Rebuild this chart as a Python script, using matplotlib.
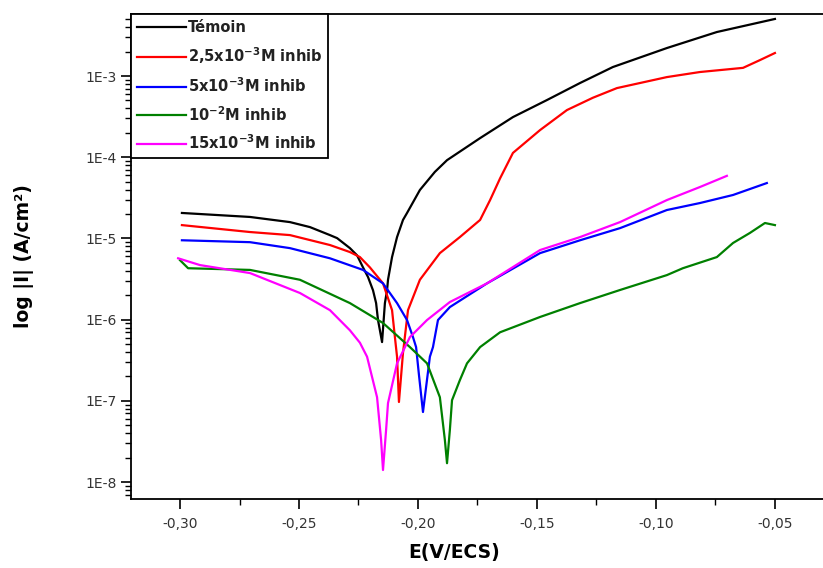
import numpy as np
import matplotlib
matplotlib.use('Agg')
import matplotlib.pyplot as plt
from matplotlib.ticker import FixedLocator, FuncFormatter, MultipleLocator

plt.rcParams['font.family'] = ['DejaVu Sans']
plt.rcParams['mathtext.fontset'] = 'dejavusans'

# potential (V/ECS) and current density (A/cm2)
E_temoin = [-0.2992, -0.2706, -0.2538, -0.2454, -0.2370, -0.2340, -0.2286, -0.2256, -0.2231,
            -0.2210, -0.2189, -0.2176, -0.2168, -0.2160, -0.2151,
            -0.2139, -0.2130, -0.2126, -0.2109, -0.2088, -0.2063, -0.2046, -0.1992, -0.1929,
            -0.1878, -0.1739, -0.1601, -0.1458, -0.1319, -0.1181, -0.0954, -0.0744, -0.0500]
I_temoin = [2.06e-5, 1.84e-5, 1.59e-5, 1.38e-5, 1.10e-5, 1.01e-5, 7.6e-6, 6.2e-6, 4.4e-6,
            3.35e-6, 2.3e-6, 1.6e-6, 9.9e-7, 7.4e-7, 5.3e-7,
            1.6e-6, 2.3e-6, 3.1e-6, 5.9e-6, 1.04e-5, 1.69e-5, 2.06e-5, 3.95e-5, 6.6e-5,
            9.2e-5, 1.72e-4, 3.12e-4, 5.06e-4, 8.2e-4, 1.29e-3, 2.21e-3, 3.48e-3, 5.04e-3]

E_25 = [-0.2992, -0.2706, -0.2538, -0.2370, -0.2286, -0.2244, -0.2202, -0.2147, -0.2109,
        -0.2097, -0.2088, -0.2080, -0.2063, -0.2042,
        -0.1992, -0.1908, -0.1824, -0.1739, -0.1697, -0.1655, -0.1601, -0.1487, -0.1374,
        -0.1265, -0.1164, -0.0954, -0.0815, -0.0634, -0.0563, -0.0500]
I_25 = [1.46e-5, 1.20e-5, 1.10e-5, 8.3e-6, 6.8e-6, 5.9e-6, 4.4e-6, 2.8e-6, 1.31e-6,
        6.1e-7, 3.5e-7, 9.7e-8, 3.9e-7, 1.31e-6,
        3.1e-6, 6.6e-6, 1.04e-5, 1.69e-5, 2.97e-5, 5.5e-5, 1.13e-4, 2.16e-4, 3.81e-4,
        5.4e-4, 7.1e-4, 9.7e-4, 1.12e-3, 1.26e-3, 1.57e-3, 1.92e-3]

E_5 = [-0.2992, -0.2706, -0.2538, -0.2370, -0.2231, -0.2147, -0.2088, -0.2046, -0.2021,
       -0.2008, -0.1996, -0.1979, -0.1950, -0.1937,
       -0.1916, -0.1866, -0.1710, -0.1487, -0.1319, -0.1151, -0.0954, -0.0815, -0.0676, -0.0534]
I_5 = [9.5e-6, 9.0e-6, 7.6e-6, 5.7e-6, 4.1e-6, 2.8e-6, 1.6e-6, 9.9e-7, 6.1e-7,
       4.6e-7, 2.1e-7, 7.3e-8, 3.5e-7, 4.6e-7,
       9.9e-7, 1.43e-6, 2.8e-6, 6.6e-6, 9.5e-6, 1.34e-5, 2.24e-5, 2.73e-5, 3.43e-5, 4.81e-5]

E_10 = [-0.3000, -0.2966, -0.2706, -0.2496, -0.2286, -0.2147, -0.2034, -0.1962, -0.1908,
        -0.1887, -0.1878, -0.1866, -0.1857, -0.1824, -0.1794, -0.1739, -0.1655, -0.1487,
        -0.1319, -0.1151, -0.0954, -0.0887, -0.0744, -0.0676, -0.0605, -0.0542, -0.0500]
I_10 = [5.4e-6, 4.3e-6, 4.1e-6, 3.1e-6, 1.6e-6, 9.1e-7, 4.6e-7, 2.9e-7, 1.11e-7,
        3.3e-8, 1.71e-8, 4.4e-8, 1.02e-7, 1.80e-7, 2.9e-7, 4.6e-7, 7.0e-7, 1.08e-6,
        1.60e-6, 2.32e-6, 3.54e-6, 4.3e-6, 5.9e-6, 8.8e-6, 1.17e-5, 1.55e-5, 1.46e-5]

E_15 = [-0.3008, -0.2916, -0.2706, -0.2496, -0.2370, -0.2286, -0.2244, -0.2214, -0.2172,
        -0.2155, -0.2147, -0.2134, -0.2126, -0.2088, -0.2034, -0.1962, -0.1866, -0.1710,
        -0.1487, -0.1319, -0.1151, -0.0954, -0.0815, -0.0702]
I_15 = [5.7e-6, 4.7e-6, 3.75e-6, 2.13e-6, 1.31e-6, 7.4e-7, 5.2e-7, 3.5e-7, 1.11e-7,
        3.3e-8, 1.41e-8, 4.4e-8, 9.4e-8, 2.9e-7, 6.1e-7, 9.9e-7, 1.65e-6, 2.8e-6,
        7.2e-6, 1.04e-5, 1.59e-5, 2.97e-5, 4.3e-5, 5.9e-5]

labels = ['Témoin', '2,5x10$^{\\mathbf{-3}}$M inhib', '5x10$^{\\mathbf{-3}}$M inhib',
          '10$^{\\mathbf{-2}}$M inhib', '15x10$^{\\mathbf{-3}}$M inhib']
colors = ['black', '#ff0000', '#0000ff', '#008000', '#ff00ff']

fig = plt.figure(figsize=(8.23, 5.68), dpi=100)
ax = fig.add_axes([131/823, 1 - 499/568, 1 - 131/823, (499 - 14)/568])

series = [(E_temoin, I_temoin), (E_25, I_25), (E_5, I_5), (E_10, I_10), (E_15, I_15)]
for (e, i), lab, c in zip(series, labels, colors):
    ax.plot(e, i, color=c, lw=1.6, label=lab)

ax.set_yscale('log')
ax.set_xlim(-0.3206, -0.0298)
ax.set_ylim(6.2e-9, 5.8e-3)

ax.xaxis.set_major_locator(MultipleLocator(0.05))
ax.xaxis.set_minor_locator(MultipleLocator(0.025))
ax.xaxis.set_major_formatter(FuncFormatter(lambda v, p: ('%.2f' % v).replace('.', ',')))
ax.yaxis.set_major_locator(FixedLocator([1e-8, 1e-7, 1e-6, 1e-5, 1e-4, 1e-3]))
ax.yaxis.set_major_formatter(FuncFormatter(lambda v, p: '1E%d' % round(np.log10(v))))

ax.tick_params(which='major', direction='out', length=7, width=1.2, labelsize=10,
               labelcolor='#333333')
ax.tick_params(axis='x', which='major', pad=6)
ax.tick_params(axis='y', which='major', pad=3)
ax.tick_params(which='minor', direction='out', length=4, width=1.0)
ax.spines['right'].set_visible(False)
for s in ['left', 'bottom', 'top']:
    ax.spines[s].set_linewidth(1.3)

ax.set_xlabel('E(V/ECS)', fontsize=13.5, fontweight='bold')
ax.xaxis.set_label_coords((454 - 131) / 692, -0.09)
ax.set_ylabel('log |I| (A/cm²)', fontsize=13.5, fontweight='bold')
ax.yaxis.set_label_coords((34 - 131) / 692, 0.5)

leg = ax.legend(loc='upper left', bbox_to_anchor=(0, 1), borderaxespad=0,
                fancybox=False, edgecolor='black', framealpha=1,
                prop={'weight': 'bold', 'size': 10.5}, handlelength=3.4,
                handletextpad=0.1, labelspacing=0.7, borderpad=0.4)
leg.get_frame().set_linewidth(1.3)
for t in leg.get_texts():
    t.set_color('#222222')

plt.savefig('out.png', dpi=100)
